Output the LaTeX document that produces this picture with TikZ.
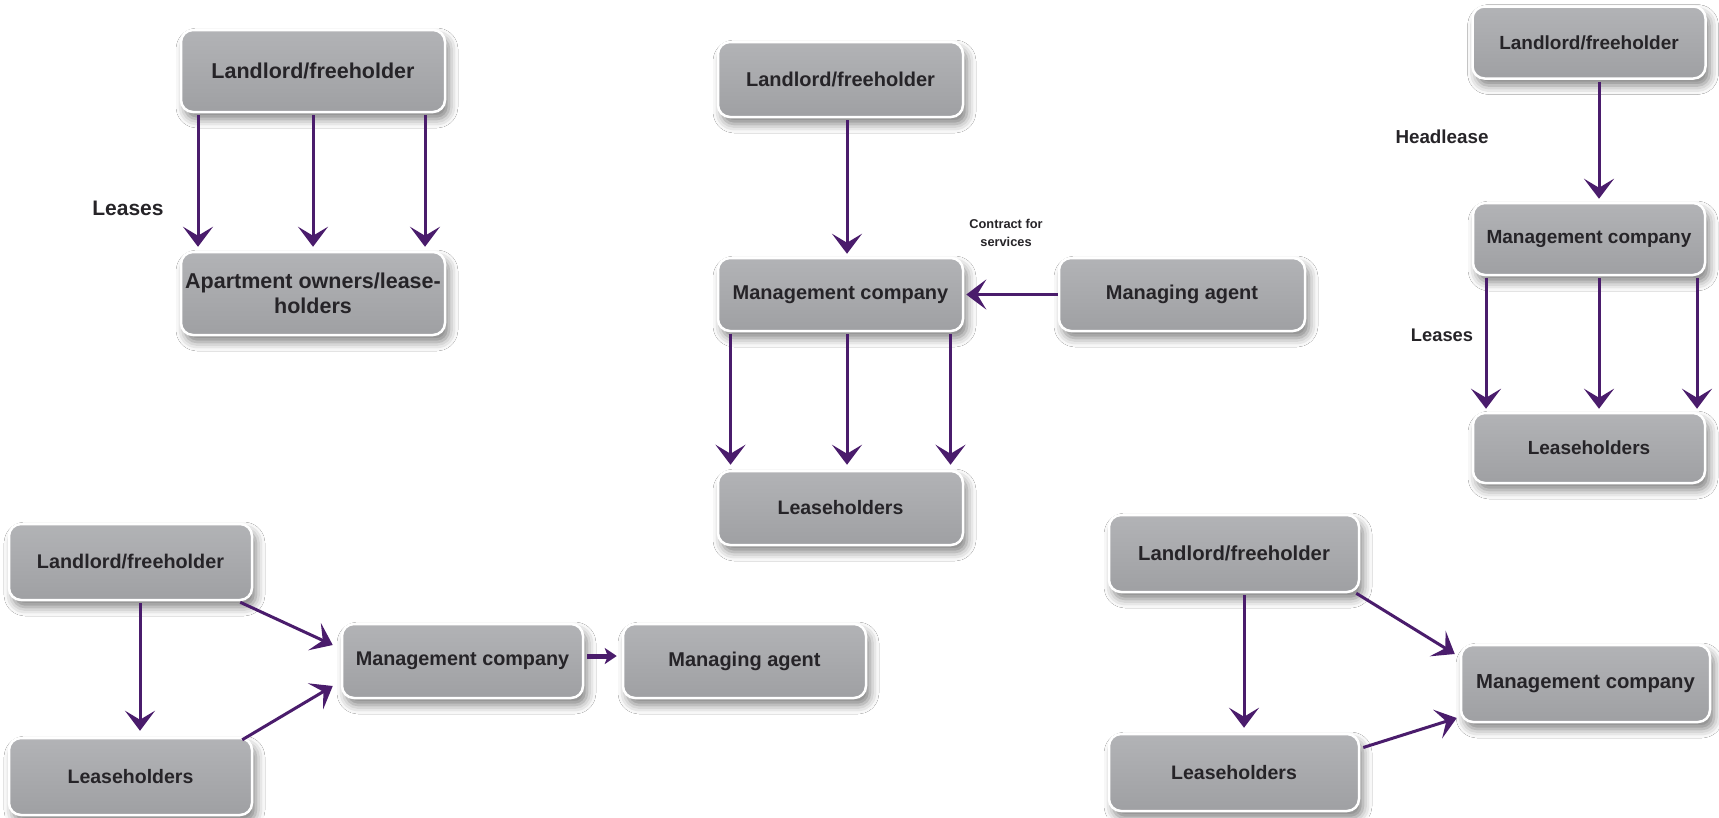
\documentclass[tikz,border=0pt]{standalone}
\usepackage{fontspec}
\setmainfont{Liberation Sans}
\usetikzlibrary{arrows.meta,shadows.blur}
\definecolor{arrowc}{HTML}{4A1C6C}
\definecolor{boxtop}{HTML}{B2B3B6}
\definecolor{boxbot}{HTML}{9FA0A3}
\definecolor{txt}{HTML}{262428}
\tikzset{
  box/.style={rounded corners=12pt, draw=white, line width=2.5pt,
    top color=boxtop, bottom color=boxbot, text=txt, align=center, inner sep=2pt,
    blur shadow={shadow xshift=4pt, shadow yshift=-7pt, shadow blur radius=9pt, shadow opacity=50}},
  fs/.style={font=\bfseries\fontsize{#1}{25}\selectfont},
  lbl/.style={text=txt, inner sep=0pt},
  arr/.style={draw=arrowc, line width=3pt, -{Stealth[length=20pt,width=30pt,inset=9pt]}},
  arrs/.style={draw=arrowc, line width=5pt, -{Stealth[length=12pt,width=16pt,inset=3pt]}}
}
\begin{document}
\begin{tikzpicture}[x=1pt,y=-1pt]
\useasboundingbox[fill=white] (0,0) rectangle (1719,817);

% ---------- Diagram 1 ----------
\node[box, fs=21.5, minimum width=264pt, minimum height=82pt] (d1L) at (313,71) {Landlord/freeholder};
\node[box, fs=21.5, minimum width=264pt, minimum height=83pt] (d1A) at (313,293.5) {Apartment owners/lease-\\holders};
\foreach \dx in {-115,0,112}
  \draw[arr] ([xshift=\dx pt, yshift=-2pt]d1L.south) -- ([xshift=\dx pt, yshift=4pt]d1A.north);
\node[lbl, fs=21] (d1lab) at (128,208) {Leases};

% ---------- Diagram 2 ----------
\node[box, fs=20, minimum width=245pt, minimum height=75pt] (d2L) at (840.5,79.5) {Landlord/freeholder};
\node[box, fs=20, minimum width=245pt, minimum height=73pt] (d2M) at (840.5,294.5) {Management company};
\node[box, fs=20, minimum width=246pt, minimum height=73pt] (d2A) at (1182,294.5) {Managing agent};
\node[box, fs=19.5, minimum width=245pt, minimum height=74pt] (d2S) at (840.5,508) {Leaseholders};
\draw[arr] ([xshift=6.5pt, yshift=-2pt]d2L.south) -- ([xshift=6.5pt, yshift=3pt]d2M.north);
\foreach \dx in {-110,6.5,110}
  \draw[arr] ([xshift=\dx pt, yshift=-2pt]d2M.south) -- ([xshift=\dx pt, yshift=5pt]d2S.north);
\draw[arr] (d2A.west) -- ([xshift=2pt]d2M.east);
\node[lbl, font=\bfseries\fontsize{12.8}{17.5}\selectfont, align=center] (d2c) at (1006,233) {Contract for\\services};

% ---------- Diagram 3 ----------
\node[box, fs=19, minimum width=233pt, minimum height=72pt] (d3L) at (1589,42.5) {Landlord/freeholder};
\node[box, fs=19, minimum width=232pt, minimum height=72pt] (d3M) at (1589,239) {Management company};
\node[box, fs=19, minimum width=232pt, minimum height=70pt] (d3S) at (1589,448) {Leaseholders};
\draw[arr] ([xshift=10pt, yshift=-2pt]d3L.south) -- ([xshift=10pt, yshift=3pt]d3M.north);
\foreach \dx in {-103,10,108}
  \draw[arr] ([xshift=\dx pt, yshift=-2pt]d3M.south) -- ([xshift=\dx pt, yshift=3pt]d3S.north);
\node[lbl, fs=18.8] (d3h) at (1442,137) {Headlease};
\node[lbl, fs=18.3] (d3l) at (1442,335) {Leases};

% ---------- Diagram 4 ----------
\node[box, fs=19.8, minimum width=243pt, minimum height=76pt] (d4L) at (130.5,562) {Landlord/freeholder};
\node[box, fs=19.5, minimum width=243pt, minimum height=77pt] (d4S) at (130.5,776.5) {Leaseholders};
\node[box, fs=19.8, minimum width=241pt, minimum height=74pt] (d4M) at (462.5,661) {Management company};
\node[box, fs=20, minimum width=243pt, minimum height=74pt] (d4A) at (744.5,661) {Managing agent};
\draw[arr] ([xshift=9.5pt, yshift=-2pt]d4L.south) -- ([xshift=9.5pt, yshift=6pt]d4S.north);
\draw[arr] ([xshift=-13pt, yshift=-1pt]d4L.south east) -- ([xshift=-8pt, yshift=16pt]d4M.west);
\draw[arr] ([xshift=-11pt, yshift=-3pt]d4S.north east) -- ([xshift=-8pt, yshift=-25pt]d4M.west);
\draw[arrs] ([xshift=3pt, yshift=5pt]d4M.east) -- ([xshift=-5pt, yshift=5pt]d4A.west);

% ---------- Diagram 5 ----------
\node[box, fs=20.3, minimum width=250pt, minimum height=77pt] (d5L) at (1234,553.5) {Landlord/freeholder};
\node[box, fs=19.5, minimum width=250pt, minimum height=77pt] (d5S) at (1234,772.5) {Leaseholders};
\node[box, fs=20.3, minimum width=249pt, minimum height=77pt] (d5M) at (1585.5,683.5) {Management company};
\draw[arr] ([xshift=10pt, yshift=-2pt]d5L.south) -- ([xshift=10pt, yshift=5pt]d5S.north);
\draw[arr] ([xshift=-4pt, yshift=0pt]d5L.south east) -- ([xshift=-5pt, yshift=29.5pt]d5M.west);
\draw[arr] ([xshift=3pt, yshift=25pt]d5S.east) -- ([xshift=-3pt, yshift=-34.5pt]d5M.west);
\end{tikzpicture}
\end{document}
